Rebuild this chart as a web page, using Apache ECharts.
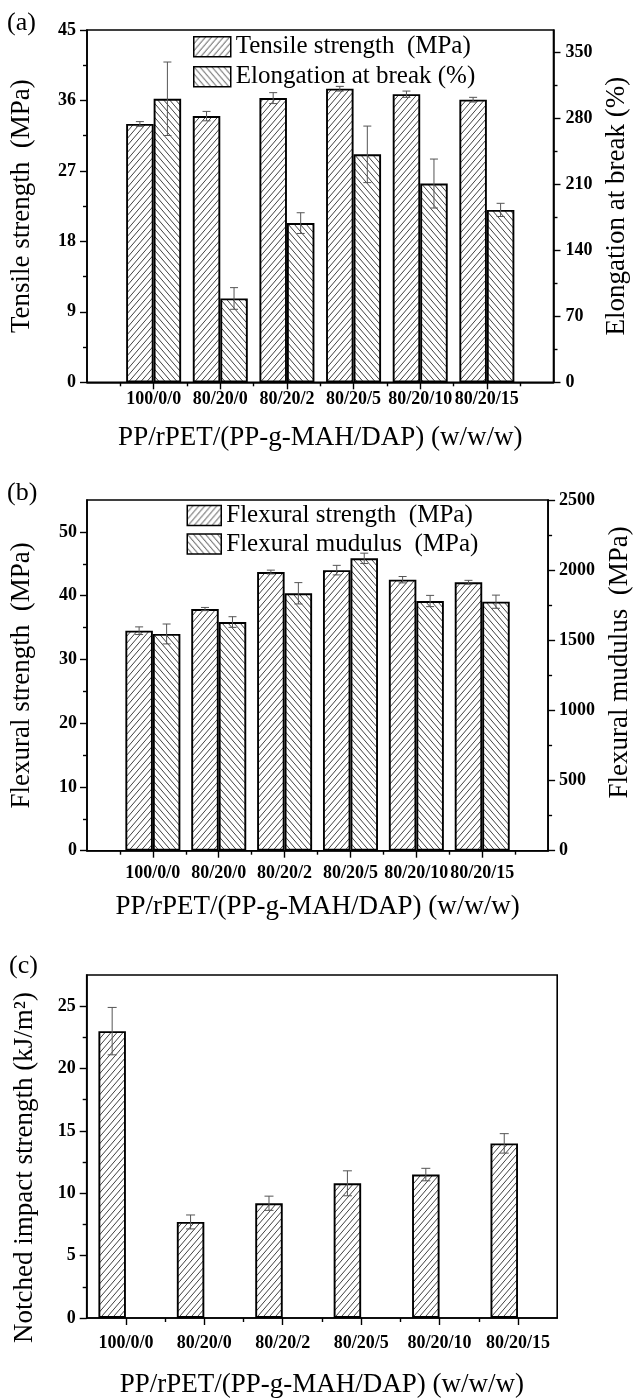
<!DOCTYPE html>
<html>
<head>
<meta charset="utf-8">
<script src="https://cdn.jsdelivr.net/npm/echarts@6/dist/echarts.min.js"></script>
<style>html,body{margin:0;padding:0;background:#fff;}#chart{width:641px;height:1399px;}</style>
</head>
<body>
<div id="chart"></div>
<script>
// ---------- data ----------
const categories = ['100/0/0', '80/20/0', '80/20/2', '80/20/5', '80/20/10', '80/20/15'];
const tensile = [33.0, 34.0, 36.3, 37.5, 36.8, 36.1];
const tensileErr = [0.3, 0.6, 0.7, 0.3, 0.4, 0.3];
const elongation = [301, 89, 169, 242, 211, 183];
const elongationErr = [39, 11.5, 11, 30, 26, 7];
const flexStrength = [34.5, 37.9, 43.7, 44.0, 42.5, 42.1];
const flexStrengthErr = [0.6, 0.25, 0.3, 0.75, 0.5, 0.3];
const flexModulus = [1545, 1630, 1835, 2084, 1780, 1775];
const flexModulusErr = [71, 38, 76, 37, 40, 47];
const impact = [23.0, 7.7, 9.2, 10.8, 11.5, 14.0];
const impactErr = [1.9, 0.56, 0.57, 1.0, 0.5, 0.78];

// ---------- tick labels ----------
const ticksTensile = [0, 9, 18, 27, 36, 45];
const ticksElong = [0, 70, 140, 210, 280, 350];
const ticksFlexS = [0, 10, 20, 30, 40, 50];
const ticksFlexM = [0, 500, 1000, 1500, 2000, 2500];
const ticksImpact = [0, 5, 10, 15, 20, 25];

const FONT = "'Liberation Serif','Times New Roman',serif";
const BAR_W = 27.5;

function minorsOf(majors, max) {
  const step = majors[1] - majors[0];
  return majors.map(v => v + step / 2).filter(v => v < max);
}

function hatch(dir) {
  const w = 6, h = 7;
  const c = document.createElement('canvas');
  c.width = w; c.height = h;
  const ctx = c.getContext('2d');
  ctx.fillStyle = '#fff';
  ctx.fillRect(0, 0, w, h);
  ctx.strokeStyle = '#2a2a2a';
  ctx.lineWidth = 0.9;
  ctx.beginPath();
  for (let k = -1; k <= 1; k++) {
    if (dir > 0) { ctx.moveTo(k * w, h); ctx.lineTo(k * w + w, 0); }
    else { ctx.moveTo(k * w, 0); ctx.lineTo(k * w + w, h); }
  }
  ctx.stroke();
  return { image: c, repeat: 'repeat' };
}
const FWD = hatch(1), BACK = hatch(-1);

const xAxes = [], yAxes = [], series = [];
const tickLine = { color: '#000', width: 1.4 };

function addX(grid, min, max, majors, minors, margin, nameGap) {
  const idx = xAxes.length;
  xAxes.push({
    type: 'value', gridIndex: grid, position: 'bottom', min: min, max: max,
    axisLine: { show: true, onZero: false, lineStyle: { color: '#000', width: 1.6 } },
    axisTick: { show: true, length: 7, customValues: majors, lineStyle: tickLine },
    axisLabel: {
      customValues: majors, margin: margin, color: '#000', fontFamily: FONT,
      fontWeight: 'bold', fontSize: 18,
      formatter: v => categories[Math.round(v) - 1] || ''
    },
    splitLine: { show: false },
    name: 'PP/rPET/(PP-g-MAH/DAP) (w/w/w)', nameLocation: 'middle', nameGap: nameGap,
    nameTextStyle: { fontFamily: FONT, fontSize: 27, color: '#000' }
  });
  xAxes.push({
    type: 'value', gridIndex: grid, position: 'bottom', min: min, max: max,
    axisLine: { show: false },
    axisTick: { show: true, length: 4, customValues: minors, lineStyle: tickLine },
    axisLabel: { show: false }, splitLine: { show: false }
  });
  return idx;
}

function addY(grid, pos, max, majors, name, margin, nameGap, namePad) {
  const idx = yAxes.length;
  yAxes.push({
    type: 'value', gridIndex: grid, position: pos, min: 0, max: max,
    axisLine: { show: true, lineStyle: { color: '#000', width: 1.6 } },
    axisTick: { show: true, length: 7, customValues: majors, lineStyle: tickLine },
    axisLabel: {
      customValues: majors, margin: margin, color: '#000', fontFamily: FONT,
      fontWeight: 'bold', fontSize: 18, formatter: v => String(v)
    },
    splitLine: { show: false },
    name: name, nameLocation: 'middle', nameGap: nameGap, nameRotate: 90,
    nameTextStyle: { fontFamily: FONT, fontSize: 27, color: '#000', padding: namePad || 0 }
  });
  yAxes.push({
    type: 'value', gridIndex: grid, position: pos, min: 0, max: max,
    axisLine: { show: false },
    axisTick: { show: true, length: 4, customValues: minorsOf(majors, max), lineStyle: tickLine },
    axisLabel: { show: false }, splitLine: { show: false }
  });
  return idx;
}

function barSeries(name, xi, yi, vals, pattern) {
  return {
    type: 'bar', name: name, xAxisIndex: xi, yAxisIndex: yi,
    data: vals.map((v, i) => [i + 1, v]),
    barWidth: BAR_W, barGap: '0%',
    itemStyle: { color: pattern, borderColor: '#000', borderWidth: 1.9 },
    silent: true, z: 2
  };
}

function errSeries(xi, yi, vals, errs, offset, capW) {
  return {
    type: 'custom', xAxisIndex: xi, yAxisIndex: yi, z: 5, silent: true,
    data: vals.map((v, i) => [i + 1, v, errs[i]]),
    renderItem: function (params, api) {
      const x = api.value(0), y = api.value(1), e = api.value(2);
      const t = api.coord([x, y + e]), b = api.coord([x, y - e]);
      const cx = t[0] + offset;
      const s = { stroke: '#555', lineWidth: 1 };
      return {
        type: 'group', children: [
          { type: 'line', shape: { x1: cx, y1: t[1], x2: cx, y2: b[1] }, style: s },
          { type: 'line', shape: { x1: cx - capW / 2, y1: t[1], x2: cx + capW / 2, y2: t[1] }, style: s },
          { type: 'line', shape: { x1: cx - capW / 2, y1: b[1], x2: cx + capW / 2, y2: b[1] }, style: s }
        ]
      };
    }
  };
}

const grids = [
  { left: 83.5, top: 30, width: 470, height: 352.3 },
  { left: 86.7, top: 500, width: 471, height: 350.7 },
  { left: 86.7, top: 975, width: 470.5, height: 351 }
].map(g => Object.assign(g, { show: true, borderColor: '#000', borderWidth: 1.6, backgroundColor: 'transparent' }));

// ---------- panel (a) ----------
const xa = addX(0, 0, 7, [1, 2, 3, 4, 5, 6], [0.5, 1.5, 2.5, 3.5, 4.5, 5.5, 6.5], 8, 42);
const yaL = addY(0, 'left', 45, ticksTensile, 'Tensile strength  (MPa)', 11, 52);
const yaR = addY(0, 'right', 374, ticksElong, 'Elongation at break (%)', 12, 47);
series.push(barSeries('Tensile strength  (MPa)', xa, yaL, tensile, FWD));
series.push(barSeries('Elongation at break (%)', xa, yaR, elongation, BACK));
series.push(errSeries(xa, yaL, tensile, tensileErr, -BAR_W / 2, 8));
series.push(errSeries(xa, yaR, elongation, elongationErr, BAR_W / 2, 8));

// ---------- panel (b) ----------
const xb = addX(1, 0, 7, [1, 2, 3, 4, 5, 6], [0.5, 1.5, 2.5, 3.5, 4.5, 5.5, 6.5], 14, 43);
const ybL = addY(1, 'left', 55, ticksFlexS, 'Flexural strength  (MPa)', 10, 52);
const ybR = addY(1, 'right', 2500, ticksFlexM, 'Flexural mudulus  (MPa)', 11, 54, [0, 0, 0, 26]);
series.push(barSeries('Flexural strength  (MPa)', xb, ybL, flexStrength, FWD));
series.push(barSeries('Flexural mudulus  (MPa)', xb, ybR, flexModulus, BACK));
series.push(errSeries(xb, ybL, flexStrength, flexStrengthErr, -BAR_W / 2, 8));
series.push(errSeries(xb, ybR, flexModulus, flexModulusErr, BAR_W / 2, 8));

// ---------- panel (c) ----------
const xc = addX(2, 0.5, 6.5, [1, 2, 3, 4, 5, 6], [1.5, 2.5, 3.5, 4.5, 5.5], 16, 53);
const ycL = addY(2, 'left', 27.5, ticksImpact, 'Notched impact strength (kJ/m²)', 11, 48, [0, 42, 0, 0]);
series.push(barSeries('Notched impact strength', xc, ycL, impact, FWD));
series.push({ type: 'bar', name: 'spacer', xAxisIndex: xc, yAxisIndex: ycL, data: [], barWidth: BAR_W, barGap: '0%' });
series.push(errSeries(xc, ycL, impact, impactErr, -BAR_W / 2, 9));

const legendBase = {
  orient: 'vertical', itemWidth: 37, itemHeight: 20, padding: 0, icon: 'rect',
  selectedMode: false,
  textStyle: { fontFamily: FONT, fontSize: 25, color: '#000' },
  itemStyle: { borderColor: '#000', borderWidth: 1.5 }
};

const option = {
  animation: false,
  backgroundColor: '#fff',
  grid: grids,
  xAxis: xAxes,
  yAxis: yAxes,
  series: series,
  legend: [
    Object.assign({}, legendBase, { data: ['Tensile strength  (MPa)', 'Elongation at break (%)'], left: 193, top: 34.2, itemGap: 5 }),
    Object.assign({}, legendBase, { data: ['Flexural strength  (MPa)', 'Flexural mudulus  (MPa)'], left: 186.5, top: 502.9, itemGap: 3.6, itemWidth: 34 })
  ],
  graphic: [
    { type: 'text', left: 7, top: 10, style: { text: '(a)', font: '26px ' + FONT, fill: '#000' } },
    { type: 'text', left: 7, top: 480, style: { text: '(b)', font: '26px ' + FONT, fill: '#000' } },
    { type: 'text', left: 9, top: 953, style: { text: '(c)', font: '26px ' + FONT, fill: '#000' } }
  ]
};

const chart = echarts.init(document.getElementById('chart'), null, { renderer: 'canvas' });
chart.setOption(option);
</script>
</body>
</html>
